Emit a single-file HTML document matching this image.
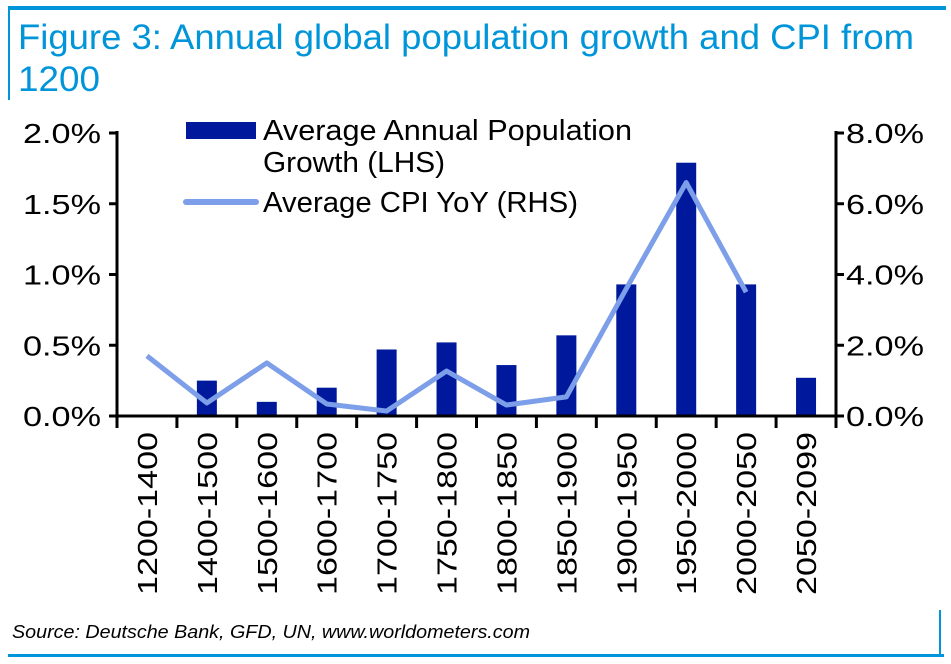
<!DOCTYPE html>
<html><head><meta charset="utf-8"><style>
body{margin:0;background:#fff;font-family:"Liberation Sans",sans-serif;}
#wrap{position:relative;width:951px;height:664px;overflow:hidden;}
</style></head><body>
<div id="wrap">
<svg id="svg" width="951" height="664">
<rect x="8" y="6" width="938" height="4" fill="#0095d9"/>
<rect x="8" y="6" width="2" height="94" fill="#0095d9"/>
<text x="18" y="49" font-size="35" fill="#0095d9" textLength="896" lengthAdjust="spacingAndGlyphs">Figure 3: Annual global population growth and CPI from</text>
<text x="18" y="91" font-size="35" fill="#0095d9" textLength="82" lengthAdjust="spacingAndGlyphs">1200</text>
<text x="12" y="638" font-size="18" font-style="italic" fill="#000" textLength="518" lengthAdjust="spacingAndGlyphs">Source: Deutsche Bank, GFD, UN, www.worldometers.com</text>
<rect x="8" y="654" width="936" height="3" fill="#0095d9"/>
<rect x="939" y="610" width="2" height="46" fill="#0095d9"/>
<g id="plot"></g>
</svg>
</div>
<script>
const categories=["1200-1400","1400-1500","1500-1600","1600-1700","1700-1750","1750-1800","1800-1850","1850-1900","1900-1950","1950-2000","2000-2050","2050-2099"];
const popGrowth=[0,0.25,0.10,0.20,0.47,0.52,0.36,0.57,0.93,1.79,0.93,0.27];
const cpi=[1.7,0.37,1.5,0.34,0.14,1.27,0.31,0.54,3.6,6.6,3.5,null];
const leftTicks=["0.0%","0.5%","1.0%","1.5%","2.0%"];
const leftTickVals=[0,0.5,1,1.5,2];
const rightTicks=["0.0%","2.0%","4.0%","6.0%","8.0%"];
const rightTickVals=[0,2,4,6,8];
const NS="http://www.w3.org/2000/svg";
const g=document.getElementById('plot');
const X0=117,X1=836,Y0=416,Y1=133;
const bw=(X1-X0)/categories.length;
const yL=v=>Y0-(v/2)*(Y0-Y1);
const yR=v=>Y0-(v/8)*(Y0-Y1);
const xC=i=>X0+bw*(i+0.5);
function mk(t,a){const e=document.createElementNS(NS,t);for(const k in a)e.setAttribute(k,a[k]);g.appendChild(e);return e;}
popGrowth.forEach((v,i)=>{const h=Y0-yL(v);if(h<=0)return;
const r=mk('rect',{x:xC(i)-10,y:yL(v),width:20,height:h,fill:'#00189c'});

});
let pts=[];cpi.forEach((v,i)=>{if(v!=null)pts.push(xC(i)+','+yR(v));});
const pl=mk('polyline',{points:pts.join(' '),fill:'none',stroke:'#7d9ee8','stroke-width':5,'stroke-linejoin':'round'});


const ax=mk('path',{d:`M${X0},${Y1-2}V${Y0}H${X1}V${Y1-2}`,fill:'none',stroke:'#000','stroke-width':3});


leftTickVals.forEach((v,i)=>{const y=yL(v);
mk('line',{x1:X0-8,x2:X0,y1:y,y2:y,stroke:'#000','stroke-width':3});
const t=mk('text',{x:X0-16,y:y+10,'font-size':28,'text-anchor':'end',textLength:78,lengthAdjust:'spacingAndGlyphs'});t.textContent=leftTicks[i];

});
rightTickVals.forEach((v,i)=>{const y=yR(v);
mk('line',{x1:X1,x2:X1+8,y1:y,y2:y,stroke:'#000','stroke-width':3});
const t=mk('text',{x:X1+10,y:y+10,'font-size':28,textLength:78,lengthAdjust:'spacingAndGlyphs'});t.textContent=rightTicks[i];

});
for(let i=0;i<=categories.length;i++){const x=X0+bw*i;mk('line',{x1:x,x2:x,y1:Y0,y2:Y0+12,stroke:'#000','stroke-width':3});}
categories.forEach((c,i)=>{const x=xC(i)+10,y=432;
const t=mk('text',{x:x,y:y,'font-size':28,'text-anchor':'end',textLength:163,lengthAdjust:'spacingAndGlyphs',transform:`rotate(-90 ${x} ${y})`});t.textContent=c;

});
const lb=mk('rect',{x:186,y:122,width:70,height:17,fill:'#00189c'});


const ll=mk('line',{x1:186,x2:256,y1:202,y2:202,stroke:'#7d9ee8','stroke-width':6,'stroke-linecap':'round'});


[["Average Annual Population",140,369],["Growth (LHS)",172,182],["Average CPI YoY (RHS)",212,315]].forEach(([s,y,w])=>{
const t=mk('text',{x:263,y:y,'font-size':29,textLength:w,lengthAdjust:'spacingAndGlyphs'});t.textContent=s;

});
</script>
</body></html>
